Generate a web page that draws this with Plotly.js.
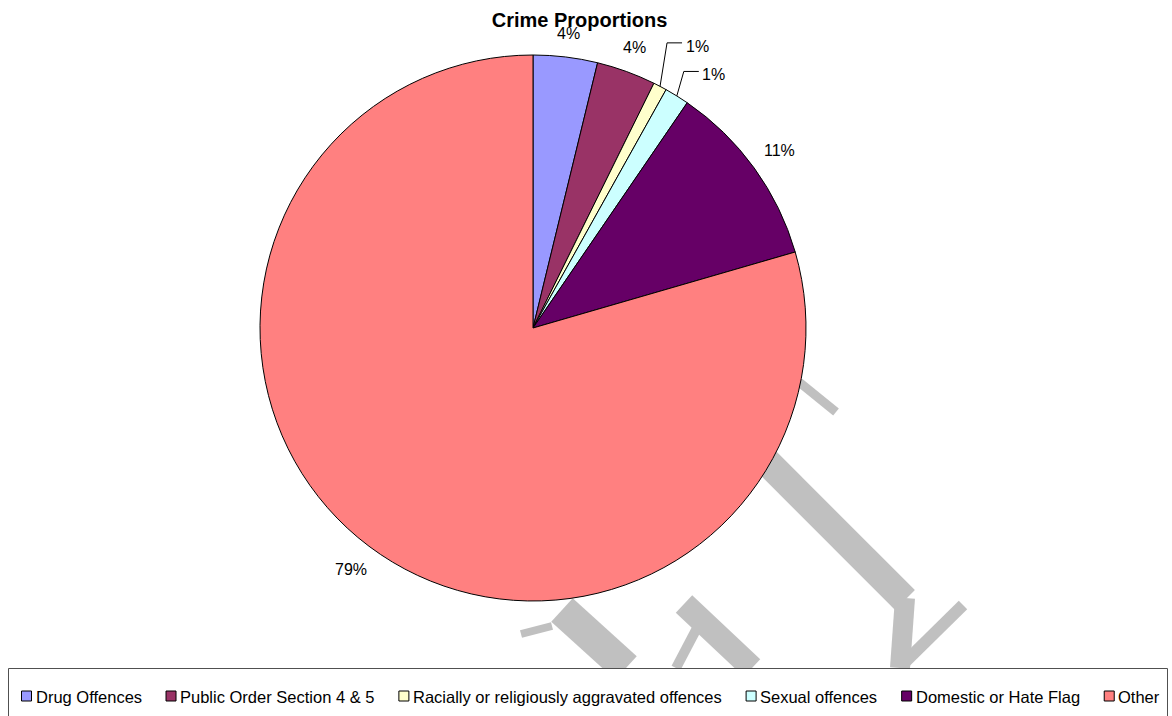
<!DOCTYPE html>
<html>
<head>
<meta charset="utf-8">
<script src="https://cdn.plot.ly/plotly-3.0.1.min.js"></script>
<style>
  html, body { margin: 0; padding: 0; background: #ffffff; }
  #chart { width: 1172px; height: 716px; }
</style>
</head>
<body>
<div id="chart"></div>
<script>
// ---- data ----
const categories = [
  'Drug Offences',
  'Public Order Section 4 & 5',
  'Racially or religiously aggravated offences',
  'Sexual offences',
  'Domestic or Hate Flag',
  'Other'
];
const shares = [3.8, 3.5, 0.8, 1.45, 10.95, 79.45];
const sliceColors = ['#9999FF', '#993366', '#FFFFCC', '#CCFFFF', '#660066', '#FF8080'];

// ---- layout constants (styling / placement only) ----
const W = 1172, H = 716;
const FONT = 'Liberation Sans, Arial, sans-serif';
const LABEL_SIZE = 16;
const LEGEND_SIZE = 16.5;
const DOMAIN_X = [260 / W, 806 / W];
const DOMAIN_Y = [1 - 601 / H, 1 - 55 / H];
// small slices whose labels sit off to the side with an elbow leader (offset in px from slice edge)
const LEADER_OFFSETS = { 2: [37, -40], 3: [37, -21] };

const px = x => x / W;
const py = y => 1 - y / H;

const canvas = document.createElement('canvas');
const ctx = canvas.getContext('2d');
function textWidth(str, size) {
  ctx.font = size + 'px "Liberation Sans", Arial, sans-serif';
  return ctx.measureText(str).width;
}

function grayLine(x0, y0, x1, y1, w) {
  return { type: 'line', xref: 'paper', yref: 'paper', layer: 'below',
           x0: px(x0), y0: py(y0), x1: px(x1), y1: py(y1),
           line: { color: '#C0C0C0', width: w } };
}

// ---- pie geometry from its domain ----
const cx = (DOMAIN_X[0] + DOMAIN_X[1]) / 2 * W;
const cy = H - (DOMAIN_Y[0] + DOMAIN_Y[1]) / 2 * H;
const R = Math.min((DOMAIN_X[1] - DOMAIN_X[0]) * W, (DOMAIN_Y[1] - DOMAIN_Y[0]) * H) / 2;

const total = shares.reduce((a, b) => a + b, 0);
const annotations = [];
const shapes = [
  // watermark strokes (partially hidden by the pie)
  grayLine(760, 455, 905, 600, 28),
  grayLine(905, 598, 900, 668, 20),
  grayLine(963, 605, 900, 667, 12),
  grayLine(799, 382, 836, 412, 9),
  grayLine(562, 610, 626, 668, 32),
  grayLine(521, 634, 552, 626, 8),
  grayLine(684, 604, 752, 668, 24),
  grayLine(697, 628, 676, 668, 10)
];

// data labels (percentages) computed from the shares
let cum = 0;
shares.forEach((v, i) => {
  const frac = v / total;
  const mid = (cum + frac / 2) * 2 * Math.PI; // clockwise from 12 o'clock
  cum += frac;
  const label = Math.round(frac * 100) + '%';
  const s = Math.sin(mid), c = Math.cos(mid);
  if (LEADER_OFFSETS[i]) {
    const ex = cx + R * s, ey = cy - R * c;
    const tx = ex + LEADER_OFFSETS[i][0], ty = ey + LEADER_OFFSETS[i][1];
    const ly = ty - 3.5;
    shapes.push({
      type: 'path', xref: 'paper', yref: 'paper', layer: 'above',
      path: `M${px(ex)},${py(ey)} L${px(ex + 7)},${py(ly)} L${px(tx - 15)},${py(ly)}`,
      line: { color: '#000000', width: 1 }
    });
    annotations.push({ xref: 'paper', yref: 'paper', x: px(tx), y: py(ty),
      xanchor: 'center', yanchor: 'middle', showarrow: false, text: label,
      font: { family: FONT, size: LABEL_SIZE, color: '#000000' } });
  } else {
    const w = textWidth(label, LABEL_SIZE), h = LABEL_SIZE * 1.1;
    const d = R + 13 + Math.abs(s) * w / 2 + Math.abs(c) * h / 2;
    annotations.push({ xref: 'paper', yref: 'paper', x: px(cx + d * s), y: py(cy - d * c),
      xanchor: 'center', yanchor: 'middle', showarrow: false, text: label,
      font: { family: FONT, size: LABEL_SIZE, color: '#000000' } });
  }
});

// ---- legend (frame, keys and labels laid out from measured text widths) ----
shapes.push({ type: 'rect', xref: 'paper', yref: 'paper', layer: 'below',
  x0: px(8.5), x1: px(1167.5), y0: py(730), y1: py(668.5),
  line: { color: '#505050', width: 1 }, fillcolor: '#ffffff' });
const LEG_START = 21, LEG_END = 1159.5, KEY = 11, KEY_GAP = 3.5, LEG_Y = 696;
const widths = categories.map(t => textWidth(t, LEGEND_SIZE));
const used = widths.reduce((a, b) => a + b, 0) + categories.length * (KEY + KEY_GAP);
const itemGap = (LEG_END - LEG_START - used) / (categories.length - 1);
let lx = LEG_START;
categories.forEach((name, i) => {
  shapes.push({ type: 'rect', xref: 'paper', yref: 'paper', layer: 'above',
    x0: px(lx + 0.5), x1: px(lx + KEY - 0.5), y0: py(LEG_Y + KEY / 2 - 0.5), y1: py(LEG_Y - KEY / 2 + 0.5),
    line: { color: '#000000', width: 1 }, fillcolor: sliceColors[i] });
  annotations.push({ xref: 'paper', yref: 'paper', x: px(lx + KEY + KEY_GAP - 2), y: py(LEG_Y + 0.5),
    xanchor: 'left', yanchor: 'middle', showarrow: false, text: name,
    font: { family: FONT, size: LEGEND_SIZE, color: '#000000' } });
  lx += KEY + KEY_GAP + widths[i] + itemGap;
});

const trace = {
  type: 'pie',
  labels: categories,
  values: shares,
  sort: false,
  direction: 'clockwise',
  rotation: 0,
  marker: { colors: sliceColors, line: { color: '#000000', width: 1 } },
  textinfo: 'none',
  domain: { x: DOMAIN_X, y: DOMAIN_Y },
  hoverinfo: 'label+percent',
  showlegend: false
};

const layout = {
  width: W, height: H,
  margin: { l: 0, r: 0, t: 0, b: 0 },
  paper_bgcolor: '#ffffff',
  plot_bgcolor: '#ffffff',
  font: { family: FONT, color: '#000000' },
  title: {
    text: '<b>Crime Proportions</b>',
    font: { family: FONT, size: 20, color: '#000000' },
    x: 579.5 / W, xanchor: 'center',
    y: 1 - 20 / H, yanchor: 'middle'
  },
  showlegend: false,
  shapes: shapes,
  annotations: annotations
};

Plotly.newPlot('chart', [trace], layout, { displayModeBar: false, staticPlot: true });
</script>
</body>
</html>
